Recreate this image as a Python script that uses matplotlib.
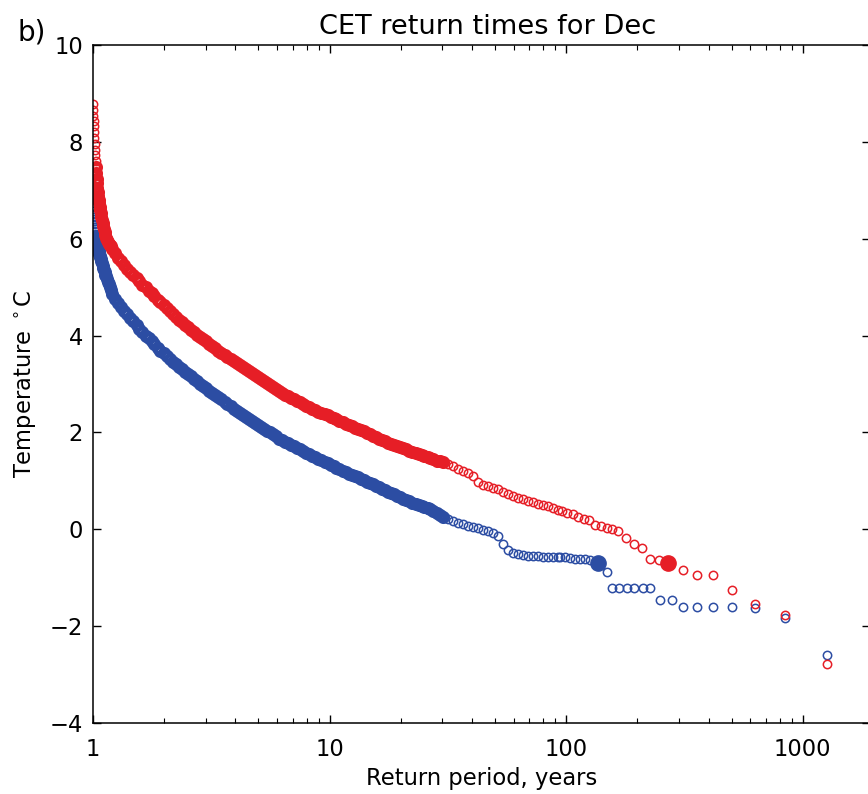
import matplotlib
matplotlib.use("Agg")
import matplotlib.pyplot as plt

# Return periods (years) shared by both ensembles in the dense part of the curve
period_dense = [
    1.001, 1.003, 1.005, 1.007, 1.009, 1.011, 1.014, 1.017, 1.020, 1.023,
    1.026, 1.030, 1.034, 1.038, 1.042, 1.046, 1.050, 1.055, 1.060, 1.065,
    1.070, 1.075, 1.081, 1.087, 1.093, 1.100, 1.107, 1.114, 1.122, 1.130,
    1.139, 1.148, 1.158, 1.168, 1.178, 1.19,
    1.21, 1.245, 1.28, 1.32, 1.36, 1.40, 1.44, 1.48, 1.53, 1.57,
    1.62, 1.67, 1.72, 1.77, 1.82, 1.88, 1.93, 1.99, 2.05, 2.11,
    2.18, 2.24, 2.31, 2.38, 2.45, 2.52, 2.6, 2.68, 2.76, 2.84,
    2.92, 3.01, 3.1, 3.2, 3.29, 3.39, 3.49, 3.6, 3.7, 3.82,
    3.93, 4.05, 4.17, 4.29, 4.42, 4.55, 4.69, 4.83, 4.98, 5.13,
    5.28, 5.44, 5.6, 5.77, 5.94, 6.12, 6.3, 6.49, 6.69, 6.89,
    7.09, 7.3, 7.52, 7.75, 7.98, 8.22, 8.47, 8.72, 8.98, 9.25,
    9.53, 9.81, 10.1, 10.4, 10.7, 11.0, 11.4, 11.7, 12.1, 12.4,
    12.8, 13.2, 13.6, 14.0, 14.4, 14.8, 15.3, 15.7, 16.2, 16.7,
    17.2, 17.7, 18.2, 18.8, 19.3, 19.9, 20.5, 21.1, 21.7, 22.4,
    23.1, 23.8, 24.5, 25.2, 26.0, 26.7, 27.5, 28.4, 29.2, 30.1,
    31.6, 33.2, 34.8, 36.6, 38.4, 40.3, 42.3, 44.4, 46.7, 49.0,
    51.5, 54.0, 56.7, 59.6, 62.5, 65.7, 69.0, 72.4, 76.0, 79.8,
    83.8, 88.0, 92.4,
]

# December CET (deg C), red ensemble
red_dense = [
    8.78, 8.66, 8.54, 8.43, 8.32, 8.21, 8.08, 7.95, 7.83, 7.72,
    7.61, 7.47, 7.35, 7.24, 7.14, 7.05, 6.96, 6.88, 6.80, 6.73,
    6.66, 6.60, 6.52, 6.45, 6.39, 6.32, 6.26, 6.20, 6.13, 6.07,
    6.02, 5.98, 5.94, 5.90, 5.87, 5.84,
    5.78, 5.70, 5.61, 5.53, 5.45, 5.38, 5.32, 5.26, 5.18, 5.12,
    5.05, 5.00, 4.93, 4.87, 4.81, 4.74, 4.69, 4.63, 4.57, 4.51,
    4.45, 4.39, 4.33, 4.27, 4.22, 4.17, 4.12, 4.07, 4.02, 3.97,
    3.93, 3.88, 3.83, 3.78, 3.74, 3.69, 3.64, 3.60, 3.56, 3.51,
    3.47, 3.43, 3.39, 3.35, 3.31, 3.27, 3.23, 3.19, 3.15, 3.11,
    3.07, 3.03, 2.98, 2.94, 2.90, 2.86, 2.81, 2.78, 2.75, 2.71,
    2.68, 2.65, 2.62, 2.58, 2.55, 2.52, 2.49, 2.46, 2.43, 2.40,
    2.37, 2.35, 2.32, 2.29, 2.27, 2.24, 2.21, 2.18, 2.15, 2.13,
    2.10, 2.07, 2.04, 2.02, 1.99, 1.96, 1.93, 1.91, 1.87, 1.84,
    1.82, 1.79, 1.77, 1.74, 1.72, 1.69, 1.67, 1.65, 1.62, 1.60,
    1.57, 1.55, 1.53, 1.51, 1.49, 1.47, 1.45, 1.42, 1.40, 1.38,
    1.35, 1.30, 1.25, 1.21, 1.16, 1.10, 0.98, 0.92, 0.89, 0.86,
    0.83, 0.78, 0.73, 0.68, 0.65, 0.62, 0.59, 0.56, 0.53, 0.50,
    0.48, 0.43, 0.39,
]

# December CET (deg C), blue ensemble
blue_dense = [
    6.65, 6.57, 6.50, 6.45, 6.40, 6.36, 6.30, 6.25, 6.20, 6.15,
    6.10, 6.04, 5.99, 5.94, 5.90, 5.86, 5.83, 5.78, 5.74, 5.69,
    5.65, 5.62, 5.58, 5.54, 5.49, 5.44, 5.39, 5.35, 5.31, 5.26,
    5.22, 5.17, 5.11, 5.06, 5.01, 4.95,
    4.86, 4.76, 4.67, 4.58, 4.51, 4.44, 4.37, 4.30, 4.21, 4.14,
    4.07, 4.00, 3.94, 3.88, 3.82, 3.75, 3.69, 3.63, 3.57, 3.51,
    3.45, 3.41, 3.35, 3.30, 3.25, 3.21, 3.16, 3.11, 3.06, 3.00,
    2.96, 2.91, 2.86, 2.82, 2.77, 2.73, 2.68, 2.63, 2.59, 2.54,
    2.49, 2.45, 2.40, 2.36, 2.32, 2.28, 2.23, 2.19, 2.15, 2.11,
    2.07, 2.03, 2.00, 1.96, 1.92, 1.87, 1.84, 1.81, 1.78, 1.74,
    1.71, 1.68, 1.65, 1.61, 1.58, 1.55, 1.52, 1.49, 1.46, 1.43,
    1.39, 1.36, 1.33, 1.30, 1.27, 1.25, 1.21, 1.19, 1.15, 1.13,
    1.10, 1.07, 1.04, 1.01, 0.98, 0.96, 0.93, 0.90, 0.87, 0.84,
    0.81, 0.78, 0.75, 0.72, 0.69, 0.66, 0.63, 0.60, 0.58, 0.55,
    0.53, 0.50, 0.48, 0.45, 0.43, 0.41, 0.37, 0.33, 0.30, 0.26,
    0.21, 0.17, 0.13, 0.10, 0.06, 0.04, 0.02, -0.01, -0.04, -0.08,
    -0.14, -0.30, -0.42, -0.48, -0.51, -0.53, -0.55, -0.56, -0.56, -0.57,
    -0.57, -0.57, -0.57,
]

# Rare-event tails
red_tail_period = [95.9, 101.3, 106.7, 112.7, 119.2, 125.5, 132.7, 140.2, 148.6, 156,
                   166.4, 178.8, 193.9, 209, 226.5, 248, 313, 357, 417, 502,
                   630, 843, 1265]
red_tail_temp = [0.37, 0.33, 0.31, 0.26, 0.22, 0.19, 0.09, 0.07, 0.02, 0.01,
                 -0.04, -0.19, -0.31, -0.39, -0.62, -0.63, -0.85, -0.95, -0.95, -1.26,
                 -1.55, -1.78, -2.78]
blue_tail_period = [94.3, 99.0, 104.0, 109.2, 114.6, 120.3, 126.3, 148.6, 156, 168,
                    180.6, 194, 211, 226.5, 249.8, 280, 313, 357, 417, 502,
                    630, 843, 1265]
blue_tail_temp = [-0.57, -0.57, -0.59, -0.62, -0.62, -0.62, -0.64, -0.88, -1.22, -1.22,
                  -1.22, -1.22, -1.22, -1.22, -1.45, -1.45, -1.61, -1.61, -1.61, -1.61,
                  -1.62, -1.83, -2.59]

# Observed Dec 2010 value and its return period in each ensemble
obs_temp = -0.70
red_obs_period = 270.7
blue_obs_period = 136.2

xtick_vals = [1, 10, 100, 1000]
ytick_vals = [-4, -2, 0, 2, 4, 6, 8, 10]

RED = "#e61e26"
BLUE = "#2c4da3"

# overplotted stretch of the curves, where the rings merge into a solid band
BAND_LO, BAND_HI = 1.03, 31.0


def split_band(periods, temps):
    inside = [(p, t) for p, t in zip(periods, temps) if BAND_LO <= p <= BAND_HI]
    outside = [(p, t) for p, t in zip(periods, temps) if not BAND_LO <= p <= BAND_HI]
    return list(zip(*inside)), list(zip(*outside))


plt.rcParams["font.family"] = "DejaVu Sans"
plt.rcParams["font.size"] = 16.3
plt.rcParams["mathtext.fontset"] = "dejavusans"

fig = plt.figure(figsize=(8.68, 7.94), dpi=100)
ax = fig.add_axes([0.107, 0.0894, 0.8957, 0.854])

ring = dict(linestyle="none", marker="o", markerfacecolor="none",
            markersize=6.0, markeredgewidth=1.1)
thick_ring = dict(linestyle="none", marker="o", markerfacecolor="none",
                  markersize=6.4, markeredgewidth=3.0)

for temps, tail_p, tail_t, color in [
    (blue_dense, blue_tail_period, blue_tail_temp, BLUE),
    (red_dense, red_tail_period, red_tail_temp, RED),
]:
    (band_p, band_t), (sparse_p, sparse_t) = split_band(period_dense, temps)
    ax.plot(band_p, band_t, markeredgecolor=color, **thick_ring)
    ax.plot(sparse_p, sparse_t, markeredgecolor=color, **ring)
    ax.plot(tail_p, tail_t, markeredgecolor=color, **ring)

ax.plot([blue_obs_period], [obs_temp], "o", color=BLUE, markersize=11)
ax.plot([red_obs_period], [obs_temp], "o", color=RED, markersize=11)

ax.set_xscale("log")
ax.set_xlim(1, 1930)
ax.set_ylim(-4, 10)
ax.set_xticks(xtick_vals)
ax.set_xticklabels([str(v) for v in xtick_vals])
ax.set_yticks(ytick_vals)

ax.tick_params(which="both", direction="in", top=True, right=True)
ax.tick_params(which="major", length=6, width=1.0)
ax.tick_params(which="minor", length=3.5, width=0.8)
ax.tick_params(axis="x", which="major", pad=11)
ax.tick_params(axis="y", which="major", pad=7)
for sp in ax.spines.values():
    sp.set_linewidth(1.1)

ax.set_xlabel("Return period, years", labelpad=4)
ax.set_ylabel("Temperature $^\\circ$C", labelpad=8)
ax.set_title("CET return times for Dec", fontsize=19.6, x=0.508, pad=8)

fig.text(17 / 868, 1 - 41 / 794, "b)", fontsize=20, va="baseline")

fig.savefig("out.png", dpi=100)
